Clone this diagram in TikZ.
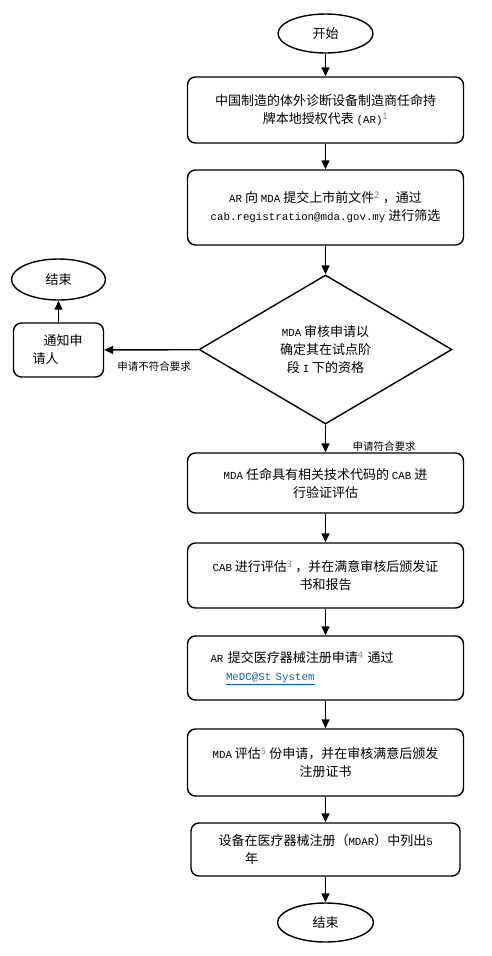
\documentclass[tikz,border=0pt]{standalone}
\usepackage{fontspec}
\setmainfont{Noto Sans CJK SC}
\setmonofont{Liberation Mono}[Scale=0.83]
\usetikzlibrary{shapes.geometric,arrows.meta,positioning}
\definecolor{linkblue}{RGB}{5,99,193}
\newcommand{\fnmark}[1]{\textcolor{gray}{\textsuperscript{#1}}}

\begin{document}
\begin{tikzpicture}[x=1pt,y=-1pt,->,>={Triangle[width=8pt,length=9pt]},line width=1.4pt,
procbox/.style={rectangle,rounded corners=8pt,draw,minimum width=276pt,inner sep=3pt,align=center,font=\fontsize{13}{18}\selectfont},
termnode/.style={ellipse,draw,minimum width=95pt,minimum height=39pt,inner sep=0pt,font=\fontsize{13}{18}\selectfont},
decisionnode/.style={diamond,draw,minimum width=253pt,minimum height=149pt,inner sep=0pt,align=center,font=\fontsize{13}{18}\selectfont},
labelnode/.style={inner sep=0pt,font=\fontsize{10.5}{12}\selectfont}]

\useasboundingbox (0, 0) rectangle (492, 956);

\node [termnode] (0) at (325.5, 33.5) {开始};
\node [procbox, minimum height=66pt] (1) at (325.5, 110) {中国制造的体外诊断设备制造商任命持\\牌本地授权代表 \texttt{(AR)}\fnmark{1}};
\node [procbox, minimum height=75pt] (2) at (325.5, 207.5) {\texttt{AR} 向 \texttt{MDA} 提交上市前文件\fnmark{2} ，通过\\\texttt{cab.registration@mda.gov.my} 进行筛选};
\node [decisionnode] (3) at (325.5, 349.5) {\texttt{MDA} 审核申请以\\确定其在试点阶\\段 \texttt{I} 下的资格};
\node [procbox, minimum width=90pt, minimum height=54pt, text width=52pt, align=left, inner sep=0pt] (4) at (58.5, 350) {\hspace*{11pt}通知申\\请人};
\node [termnode, minimum width=94pt, minimum height=41pt] (5) at (58.5, 279.5) {结束};
\node [procbox, minimum height=60pt] (6) at (325.5, 483) {\texttt{MDA} 任命具有相关技术代码的 \texttt{CAB} 进\\行验证评估};
\node [procbox, minimum height=65pt] (7) at (325.5, 575.5) {\texttt{CAB} 进行评估\fnmark{3} ，并在满意审核后颁发证\\书和报告};
\node [procbox, minimum height=64pt, text width=230pt, align=left] (8) at (325.5, 668) {\texttt{AR} 提交医疗器械注册申请\fnmark{4} 通过\\\hspace*{15.5pt}\textcolor{linkblue}{\underline{\texttt{MeDC@St System}}}};
\node [procbox, minimum height=67pt] (9) at (325.5, 762.5) {\texttt{MDA} 评估\fnmark{5} 份申请，并在审核满意后颁发\\注册证书};
\node [procbox, minimum width=269pt, minimum height=53pt, text width=214pt, align=left] (10) at (325.5, 849.5) {设备在医疗器械注册（\texttt{MDAR}）中列出\texttt{5}\\\hspace*{26.5pt}年};
\node [termnode, minimum width=96pt] (11) at (325.5, 922.5) {结束};

\node [labelnode] (12) at (154, 366) {申请不符合要求};
\node [labelnode] (13) at (384, 446) {申请符合要求};

\draw (0) to (1);
\draw (1) to (2);
\draw (2) to (3);
\draw (3) to (4);
\draw (4) to (5);
\draw (3) to (6);
\draw (6) to (7);
\draw (7) to (8);
\draw (8) to (9);
\draw (9) to (10);
\draw (10) to (11);
\end{tikzpicture}
\end{document}
